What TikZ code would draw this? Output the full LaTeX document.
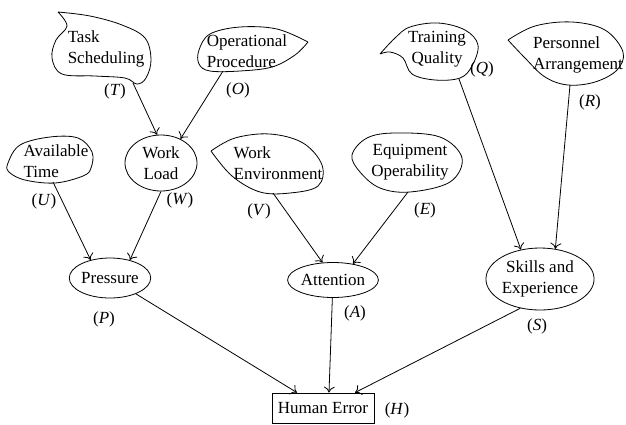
\documentclass[tikz,border=0pt]{standalone}
\usepackage{fontspec}
\setmainfont{Liberation Serif}
\usetikzlibrary{shapes.geometric,arrows.meta}
\tikzstyle{blob} = [line width=0.8pt, line join=round]
\tikzstyle{factor} = [ellipse, draw, line width=0.8pt, inner sep=0pt, align=center]
\tikzstyle{outcome} = [rectangle, draw, line width=0.8pt, minimum width=102pt, minimum height=30pt]
\tikzstyle{txt} = [align=left, inner sep=0pt]
\tikzstyle{tag} = [inner sep=0pt]
\tikzstyle{arrow} = [line width=0.8pt, -{To[length=6pt,width=11pt]}]

\begin{document}
\begin{tikzpicture}[x=1pt, y=-1pt, font=\rmfamily\fontsize{17}{21}\selectfont]
\useasboundingbox (0,0) rectangle (626,424);

% root factors (hand drawn outlines, sharp at the tip)
\draw [blob] plot[smooth, tension=0.6] coordinates {(58,12) (90,16) (122,25) (145,38) (151,60) (146,78) (137,84) (125,78) (95,76) (62,74) (52,58) (56,40) (67,26) (58,12)};
\node (T) [txt] at (106,49) {Task\\Scheduling};
\coordinate (Tout) at (133,83);

\draw [blob] plot[smooth, tension=0.6] coordinates {(308,42) (295,55) (272,67) (240,71) (210,71) (199,64) (199,50) (210,34) (240,27) (277,29) (308,42)};
\node (O) [txt] at (247,51) {Operational\\Procedure};
\coordinate (Oout) at (223,71);

\draw [blob] plot[smooth cycle, tension=0.6] coordinates {(8,163) (20,145) (50,137) (78,138) (92,152) (91,168) (83,176) (55,183) (25,180) (9,172)};
\node (U) [txt] at (56,161) {Available\\Time};
\coordinate (Uout) at (53,182);

\draw [blob] plot[smooth, tension=0.6] coordinates {(211,151) (235,138) (270,134) (303,143) (322,165) (318,186) (290,193) (260,192) (232,176) (211,151)};
\node (V) [txt] at (278,163) {Work\\Environment};
\coordinate (Vout) at (273,193);

\draw [blob] plot[smooth cycle, tension=0.6] coordinates {(352,155) (367,138) (395,133) (440,137) (462,158) (450,182) (410,192) (380,188) (360,172)};
\node (E) [txt, align=center] at (410,162) {Equipment\\Operability};
\coordinate (Eout) at (408,192);

\draw [blob] plot[smooth, tension=0.6] coordinates {(380,54) (395,38) (410,27) (438,23) (465,30) (478,45) (472,66) (460,78) (435,80) (412,74) (403,58) (390,52) (380,54)};
\node (Q) [txt, align=center] at (437,49) {Training\\Quality};
\coordinate (Qout) at (459,79);

\draw [blob] plot[smooth, tension=0.6] coordinates {(508,40) (535,26) (572,22) (605,30) (623,52) (617,70) (595,82) (568,85) (545,77) (525,58) (508,40)};
\node (R) [txt] at (578,55) {Personnel\\Arrangement};
\coordinate (Rout) at (570,85);

% intermediate factors
\node (W) [factor, minimum width=72pt, minimum height=56pt] at (161,163) {Work\\Load};
\node (P) [factor, minimum width=76pt, minimum height=40pt] at (110,278) {Pressure};
\node (A) [factor, minimum width=90pt, minimum height=35pt] at (333,280) {Attention};
\node (S) [factor, minimum width=92pt, minimum height=62pt] at (540,279) {Skills and\\Experience};
\node (H) [outcome] at (323,408) {Human Error};

% letters
\node [tag] at (115,91) {(\textit{T})};
\node [tag] at (238,90) {(\textit{O})};
\node [tag] at (44,201) {(\textit{U})};
\node [tag] at (180,200) {(\textit{W})};
\node [tag] at (259,211) {(\textit{V})};
\node [tag] at (425,210) {(\textit{E})};
\node [tag] at (482,69) {(\textit{Q})};
\node [tag] at (590,102) {(\textit{R})};
\node [tag] at (104,319) {(\textit{P})};
\node [tag] at (355,313) {(\textit{A})};
\node [tag] at (537,326) {(\textit{S})};
\node [tag] at (397,410) {(\textit{H})};

% links
\draw [arrow] (Tout) -- (W.98);
\draw [arrow] (Oout) -- (W.51);
\draw [arrow] (Uout) -- (P.137);
\draw [arrow] (W.south) -- (P.42);
\draw [arrow] (Vout) -- (A.121);
\draw [arrow] (Eout) -- (A.39);
\draw [arrow] (Qout) -- (S.123);
\draw [arrow] (Rout) -- (S.63);
\draw [arrow] (P) -- ([xshift=-26pt]H.north);
\draw [arrow] (A) -- ([xshift=6pt]H.north);
\draw [arrow] (S.236) -- ([xshift=32pt]H.north);
\end{tikzpicture}
\end{document}
